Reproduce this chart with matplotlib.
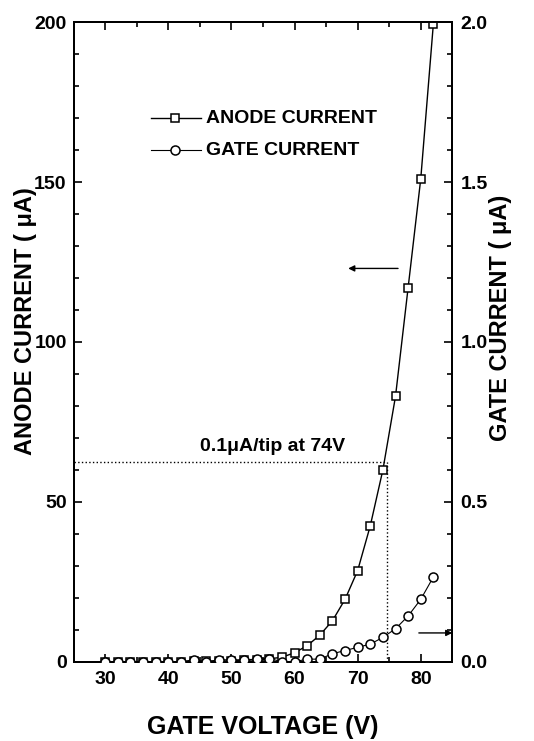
import matplotlib
matplotlib.use("Agg")
import matplotlib.pyplot as plt
from matplotlib.ticker import MultipleLocator

plt.rcParams['font.family'] = ['Liberation Sans', 'DejaVu Sans']
plt.rcParams['font.weight'] = 'bold'

# gate voltage (V)
voltage = [30, 32, 34, 36, 38, 40, 42, 44, 46, 48, 50, 52, 54, 56, 58,
           60, 62, 64, 66, 68, 70, 72, 74, 76, 78, 80, 82]
# anode current (uA)
anode = [0.0, 0.0, 0.0, 0.0, 0.0, 0.0, 0.0, 0.1, 0.1, 0.2, 0.3, 0.4, 0.6, 0.9, 1.4,
         2.8, 5.0, 8.3, 12.8, 19.5, 28.5, 42.5, 60.0, 83.0, 117.0, 151.0, 199.5]
# gate current (uA)
gate = [0.0, 0.0, 0.0, 0.0, 0.0, 0.0, 0.0, 0.006, 0.0, 0.006, 0.006, 0.006, 0.008, 0.01, 0.0,
        0.0, 0.008, 0.008, 0.025, 0.035, 0.045, 0.055, 0.076, 0.103, 0.143, 0.195, 0.265]

fig = plt.figure(figsize=(5.34, 7.41), dpi=100)
ax = fig.add_axes([0.138, 0.107, 0.709, 0.863])
ax2 = ax.twinx()

ax.plot(voltage, anode, '-', color='black', lw=1.0, marker='s', ms=5.5,
        mfc='white', mec='black', mew=1.1, zorder=3)
ax2.plot(voltage, gate, '-', color='black', lw=0.8, marker='o', ms=6.5,
         mfc='white', mec='black', mew=1.1, zorder=3)

ax.set_xlim(25, 85)
ax.set_ylim(0, 200)
ax2.set_ylim(0, 2.0)

ax.xaxis.set_major_locator(MultipleLocator(10))
ax.xaxis.set_minor_locator(MultipleLocator(5))
ax.yaxis.set_major_locator(MultipleLocator(50))
ax.yaxis.set_minor_locator(MultipleLocator(10))
ax2.set_yticks([0, 0.5, 1.0, 1.5, 2.0])
ax2.set_yticklabels(['0.0', '0.5', '1.0', '1.5', '2.0'])
ax2.yaxis.set_minor_locator(MultipleLocator(0.1))

ax.tick_params(which='both', direction='in', top=True, labelsize=14, width=1.2)
ax.tick_params(which='major', length=6)
ax.tick_params(which='minor', length=3.5)
ax.tick_params(axis='x', pad=7)
ax.tick_params(axis='y', pad=5)
ax2.tick_params(which='both', direction='in', labelsize=14, width=1.2, pad=6)
ax2.tick_params(which='major', length=6)
ax2.tick_params(which='minor', length=3.5)
for a in (ax, ax2):
    for s in a.spines.values():
        s.set_linewidth(1.4)
    for t in a.get_xticklabels() + a.get_yticklabels():
        t.set_fontweight('bold')

ax.set_xlabel('GATE VOLTAGE (V)', fontsize=18, fontweight='bold')
ax.set_ylabel('ANODE CURRENT ( \u03bcA)', fontsize=17, fontweight='bold')
ax2.set_ylabel('GATE CURRENT ( \u03bcA)', fontsize=17, fontweight='bold')
ax.xaxis.set_label_coords(0.5, -0.084)
ax.yaxis.set_label_coords(-0.098, 0.533)
ax2.yaxis.set_label_coords(1.096, 0.537)

# 0.1uA/tip marker lines
ax.plot([25, 74.6], [62.5, 62.5], ':', color='black', lw=1.0)
ax.plot([74.6, 74.6], [0, 62.5], ':', color='black', lw=1.0)
ax.text(56.5, 65.8, '0.1\u03bcA/tip at 74V', fontsize=14, fontweight='bold',
        ha='center', va='baseline')

# arrows pointing to axes
ax.annotate('', xy=(68.5, 123), xytext=(76.4, 123),
            arrowprops=dict(arrowstyle='-|>', color='black', lw=1.0,
                            mutation_scale=9, shrinkA=0, shrinkB=0))
ax.annotate('', xy=(85.0, 9.0), xytext=(79.7, 9.0), annotation_clip=False,
            arrowprops=dict(arrowstyle='-|>', color='black', lw=1.0,
                            mutation_scale=9, shrinkA=0, shrinkB=0))

# legend
ax.plot([37.2, 45.1], [170, 170], '-', color='black', lw=1.0)
ax.plot([41.1], [170], 's', ms=5.5, mfc='white', mec='black', mew=1.1)
ax.text(45.9, 170, 'ANODE CURRENT', fontsize=14, fontweight='bold', va='center')
ax.plot([37.2, 45.1], [160, 160], '-', color='black', lw=0.8)
ax.plot([41.1], [160], 'o', ms=6.5, mfc='white', mec='black', mew=1.1)
ax.text(45.9, 160, 'GATE CURRENT', fontsize=14, fontweight='bold', va='center')

fig.savefig('out.png', dpi=100)
